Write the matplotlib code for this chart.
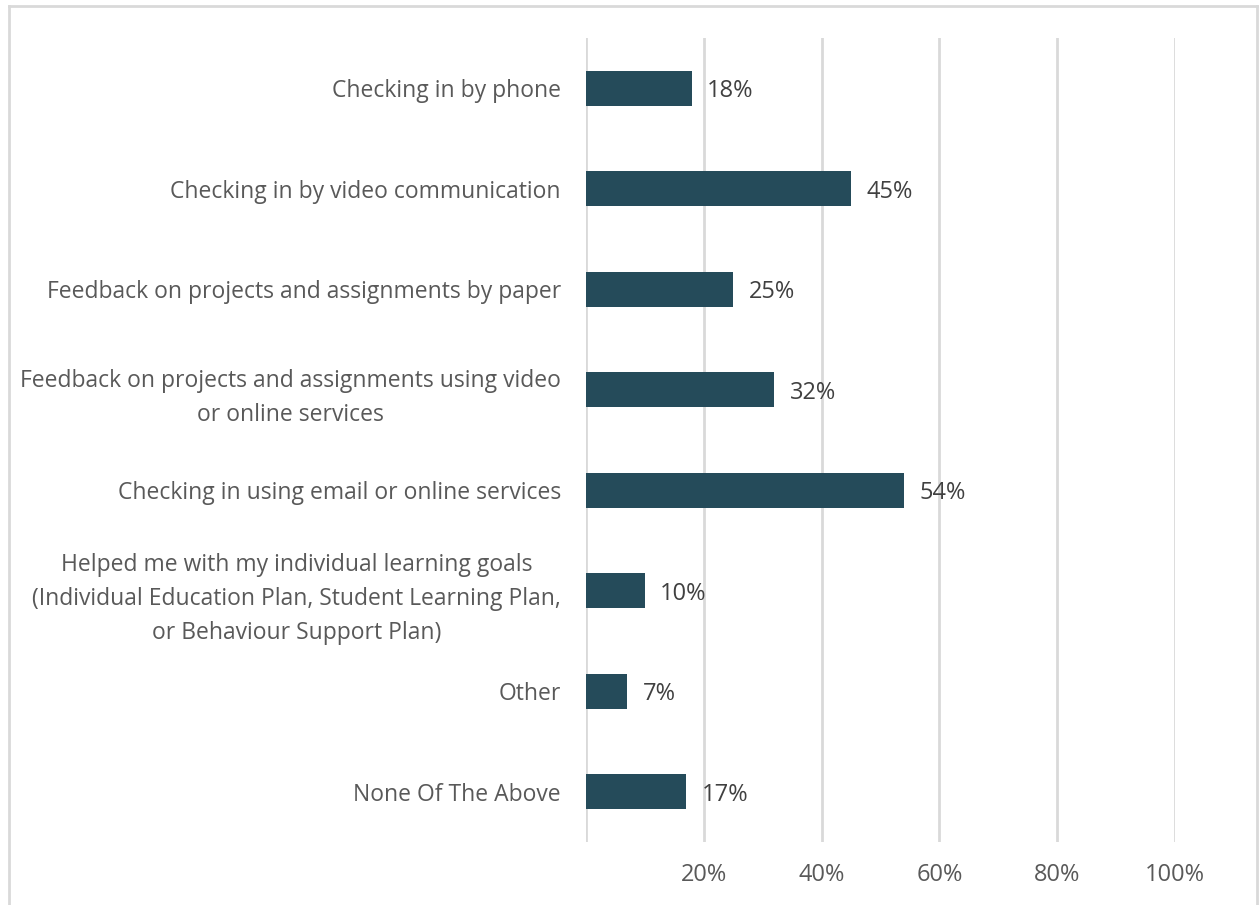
import numpy as np
import matplotlib.pyplot as plt
from matplotlib.lines import Line2D
from matplotlib.ticker import FixedLocator

# === Survey data ===

categories = [
    "Checking in by phone",
    "Checking in by video communication",
    "Feedback on projects and assignments by paper",
    "Feedback on projects and assignments using video\nor online services",
    "Checking in using email or online services",
    "Helped me with my individual learning goals\n(Individual Education Plan, Student Learning Plan,\nor Behaviour Support Plan)",
    "Other",
    "None Of The Above",
]
values = [18, 45, 25, 32, 54, 10, 7, 17]
tick_values = [20, 40, 60, 80, 100]
tick_labels = ["20%", "40%", "60%", "80%", "100%"]

bar_color = "#254B5A"
text_color = "#595959"
grid_color = "#D9D9D9"

plt.rcParams["font.family"] = ["Open Sans", "DejaVu Sans"]

fig = plt.figure(figsize=(12.59, 9.05), dpi=100)
ax = fig.add_axes([0.4654, 0.0696, 0.9333 - 0.4654, 0.958 - 0.0696])

y = np.arange(len(categories))
ax.barh(y, values, height=0.35, color=bar_color, zorder=3)

for yi, v in zip(y, values):
    ax.annotate(f"{v}%", (v, yi), xytext=(11, -2), textcoords="offset points",
                va="center", ha="left", fontsize=17, color="#404040")

ax.set_xlim(0, 100)
ax.set_ylim(len(categories) - 0.5, -0.5)

ax.set_yticks(y)
ax.set_yticklabels(categories, fontsize=16.5, color=text_color,
                   multialignment="center", linespacing=1.56)
ax.xaxis.set_major_locator(FixedLocator(tick_values))
ax.set_xticklabels(tick_labels, fontsize=17, color=text_color)
ax.tick_params(axis="both", length=0)
ax.tick_params(axis="x", pad=15)
ax.tick_params(axis="y", pad=18)

# vertical gridlines, including the zero line
for xv in [0] + tick_values:
    ax.axvline(xv, color=grid_color, linewidth=2, zorder=1)

for s in ax.spines.values():
    s.set_visible(False)

# light frame around the chart
fx0, fx1 = 8.5 / 1259, 1256.5 / 1259
fy1 = 1 - 6.5 / 905
frame_kw = dict(color=grid_color, linewidth=2, transform=fig.transFigure)
fig.add_artist(Line2D([fx0, fx0], [0, fy1], **frame_kw))
fig.add_artist(Line2D([fx0, fx1], [fy1, fy1], **frame_kw))
fig.add_artist(Line2D([fx1, fx1], [fy1, 0], **frame_kw))

fig.savefig("out.png", dpi=100)
